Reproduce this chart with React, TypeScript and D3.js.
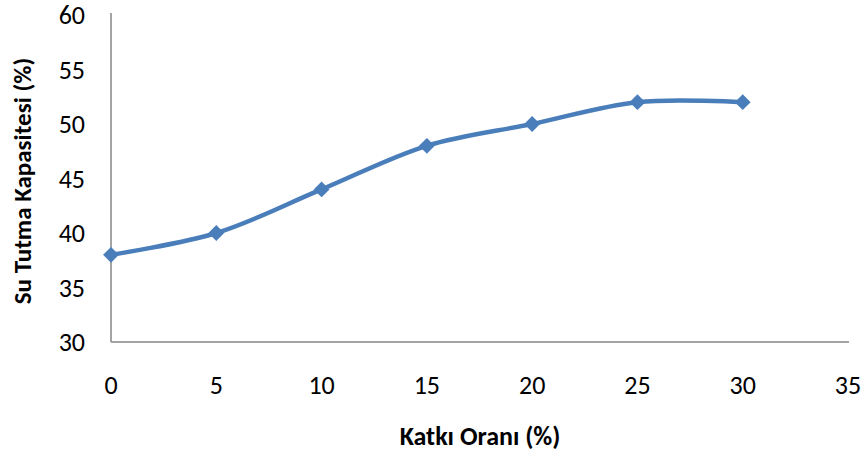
import React from "react";
import * as d3 from "d3";

const categories: number[] = [0, 5, 10, 15, 20, 25, 30];
const values: number[] = [38, 40, 44, 48, 50, 52, 52];
const xTicks: number[] = [0, 5, 10, 15, 20, 25, 30, 35];
const yTicks: number[] = [30, 35, 40, 45, 50, 55, 60];
const xTitle = "Katkı Oranı (%)";
const yTitle = "Su Tutma Kapasitesi (%)";

const W = 866;
const H = 456;
const left = 111;
const right = 848;
const top = 15;
const bottom = 342;
const font = "Carlito, 'Open Sans', 'Liberation Sans', sans-serif";
const blue = "#4A7EBB";

export default function App() {
  const x = d3.scaleLinear().domain([0, 35]).range([left, right]);
  const y = d3.scaleLinear().domain([30, 60]).range([bottom, top]);
  const pts: [number, number][] = categories.map((c, i) => [x(c), y(values[i])]);
  const line = d3.line<[number, number]>().curve(d3.curveCatmullRom.alpha(0.5))(pts) || "";
  const diamond = d3.symbol().type(d3.symbolDiamond2).size(160)() || "";

  return (
    <svg width={W} height={H} style={{ position: "absolute", left: 0, top: 0, background: "#fff" }}>
      <line x1={left} x2={left} y1={top - 2} y2={bottom} stroke="#868686" strokeWidth={1.5} />
      <line x1={left} x2={right + 1} y1={bottom} y2={bottom} stroke="#868686" strokeWidth={1.5} />
      {yTicks.map((t) => (
        <text key={t} x={85} y={y(t)} dy="0.35em" textAnchor="end" fontFamily={font} fontSize={26} fill="#000">
          {t}
        </text>
      ))}
      {xTicks.map((t) => (
        <text key={t} x={x(t)} y={385} dy="0.35em" textAnchor="middle" fontFamily={font} fontSize={26} fill="#000">
          {t}
        </text>
      ))}
      <text x={480} y={436} dy="0.35em" textAnchor="middle" fontFamily={font} fontSize={26} fontWeight="bold">
        {xTitle}
      </text>
      <text
        transform={`translate(22,181) rotate(-90)`}
        dy="0.35em"
        textAnchor="middle"
        fontFamily={font}
        fontSize={25}
        fontWeight="bold"
      >
        {yTitle}
      </text>
      <path d={line} fill="none" stroke={blue} strokeWidth={4.5} strokeLinejoin="round" />
      {pts.map(([px, py], i) => (
        <path key={i} d={diamond} transform={`translate(${px},${py})`} fill={blue} />
      ))}
    </svg>
  );
}
